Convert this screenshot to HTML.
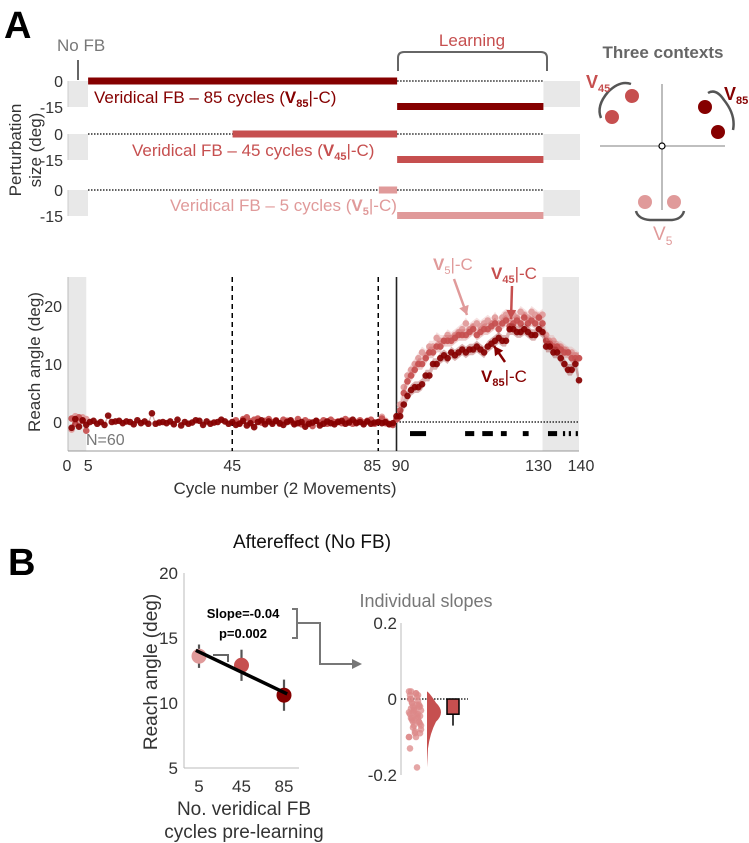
<!DOCTYPE html>
<html><head><meta charset="utf-8"><style>
body{margin:0;background:#fff;}
svg{display:block;font-family:"Liberation Sans",Arial,sans-serif;}
</style></head><body>
<svg id="fig" width="749" height="843" viewBox="0 0 749 843" xmlns="http://www.w3.org/2000/svg">
<text x="4" y="38" font-size="38" font-weight="bold" fill="#000">A</text>
<g id="topsched"></g>
<g id="ctx"></g>
<g id="main"></g>
<text x="8" y="575" font-size="38" font-weight="bold" fill="#000">B</text>
<text x="312" y="548" font-size="19" text-anchor="middle" fill="#111">Aftereffect (No FB)</text>
<g id="after"></g>
<g id="slopes"></g>
</svg>
<script>
// ---- data ----
const v85 = [-1,0.5,-0.8,0.3,-0.5, 0,0.2,-0.3,0,-0.5,1.1,0,0.1,0.2,-0.2,0.1,0,-0.4,0.3,-0.2,0.1,-0.3,1.5,-0.3,-0.1,0,-0.2,0.1,-0.4,0.4,-0.6,0,-0.3,-0.1,0.3,0.2,-0.5,0.1,-0.3,-0.1,0,0.4,0.1,-0.3,0,
 -0.5,-0.3,0.2,-0.6,-0.2,-0.9,0,0.3,-0.4,0.1,-0.3,0.2,-0.2,-0.5,0,0.3,-0.4,-0.2,0,-0.8,-0.3,-0.1,0.2,-0.6,-0.3,0.1,-0.2,-0.4,0,0.2,-0.3,-0.1,0.4,-0.2,0,-0.4,0.1,-0.3,-0.1,0,-0.2,0,-0.4,-0.2,1,
 1,3,4.5,5.5,6,6,6.5,8,8,10,10,11,11.5,11,12,11.5,12,12.5,12,12.5,12.5,13,12.5,12,13,13.5,14,14.5,14,14,16,16,15.5,15.5,16,15.5,15,15,16,15.5,
 13,13,12,12,11,10,9,9,10,7.2];
const v45Early = [0.6,-0.3,0.8,0.2,-1.5];
const v45 = [0.3,-0.2,0.5,0.8,0.1,0.4,0.6,-0.1,0.2,0.5,0,0.3,-0.3,0.4,0.2,0.1,-0.2,0.5,-0.4,0.3,0,-0.7,0.2,-0.1,0.3,-0.3,0.4,0,0.1,-0.2,0.5,0.2,-0.3,0,0.3,-0.1,0.2,0.4,-0.3,0,0.6,-0.2,-0.3,-0.5,0.5,
 2,5,7,8,9,10,10,11,12,12,13,13,14,14,14,14.5,15,15,15,15.5,16,15,15.5,16,16,16.5,17,16,17,17.5,16.5,17,17.5,17,18,17,17.5,17,18,17,
 14,13.5,13,13,12.5,12,12,11,11,11];
const v5Early = [-1.3,1,0.2,0.8,0.5];
const v5 = [0.9,0.2,-0.4,-0.5,0.4,
 3,6,8,9,10,11,12,11.5,13,13,14.5,14,14,15,14.5,15,15.5,16,17,16,16.5,17,16.5,17,17.5,17,18,17,18,18.5,18,18.5,18,19,18.5,18,19,18.5,18,18.5,
 15,14,14,13,13,12.5,12,12,11.5,11];
const SEM = 1.0;
const SEM_BASE = 0.35;
const sigStart = [93.7,108.8,113.5,118.6,124.6,131.5,135.6,137.2,139.1];
const sigEnd   = [98.1,111.3,116.4,120.2,126.2,134.0,136.2,137.8,139.7];
const xTicks = [0,5,45,85,90,130,140];
const yTicks = [0,10,20];
const aeCats = [5,45,85];
const aeMeans = [13.6,12.9,10.6];
const aeErr = [0.9,1.2,1.2];
const fitLine = [14.05,10.7];
const aeYTicks = [5,10,15,20];
const indiv = [0.02,0.015,0.01,0.005,0.0,-0.005,-0.01,-0.015,-0.02,-0.02,-0.025,-0.03,-0.03,-0.035,-0.04,-0.04,-0.045,-0.05,-0.05,-0.055,-0.06,-0.06,-0.065,-0.07,-0.08,-0.09,-0.1,-0.1,-0.13,-0.18,0.02,0.01,-0.01,-0.02,-0.035,-0.045,-0.055,-0.07,-0.085,-0.1,0.015,0.0,-0.015,-0.025,-0.04,-0.05,-0.06,-0.075,-0.09,-0.03];
const meanSlope = -0.04;
const slopeErr = 0.03;
const slopeTicks = [0.2,0,-0.2];

const NS='http://www.w3.org/2000/svg';
function mk(tag, attrs, parent){const e=document.createElementNS(NS,tag);for(const k in attrs)e.setAttribute(k,attrs[k]);parent.appendChild(e);return e;}
const C85='#850000', C45='#c64f4f', C5='#e09a9a';

// ---- top schedule ----
const topG=document.getElementById('topsched');
const tx=c=>68+c*3.657;
const rows=[{y0:81,start:5.5,col:C85,txt:'Veridical FB – 85 cycles (',sub:'85',lx:94,ly:103},
            {y0:134,start:45,col:C45,txt:'Veridical FB – 45 cycles (',sub:'45',lx:132,ly:156},
            {y0:190,start:85,col:C5,txt:'Veridical FB – 5 cycles (',sub:'5',lx:170,ly:211}];
rows.forEach((r,i)=>{
  const g=mk('g',{},topG);
  
  
  const y15=r.y0+26;
  let e=mk('rect',{x:68,y:r.y0,width:20,height:26,fill:'#e8e8e8'},g);
  e=mk('rect',{x:tx(130),y:r.y0,width:tx(140)-tx(130),height:26,fill:'#e8e8e8'},g);
  mk('line',{x1:68,y1:r.y0,x2:68,y2:y15,stroke:'#ccc'},g);
  if(r.start>6) mk('line',{x1:88,y1:r.y0,x2:tx(r.start),y2:r.y0,stroke:'#000','stroke-dasharray':'1.5,1.5','stroke-width':1.2},g);
  e=mk('rect',{x:tx(r.start),y:r.y0-3.5,width:tx(90)-tx(r.start),height:7,fill:r.col},g);
  
  
  mk('line',{x1:tx(90),y1:r.y0,x2:tx(130),y2:r.y0,stroke:'#000','stroke-dasharray':'1.5,1.5','stroke-width':1.2},g);
  e=mk('rect',{x:tx(90),y:y15-4,width:tx(130)-tx(90),height:7,fill:r.col},g);
  
  
  let tt=mk('text',{x:63,y:r.y0+6,'font-size':16,'text-anchor':'end',fill:'#333'},g);tt.textContent='0';
  tt=mk('text',{x:63,y:y15+6,'font-size':16,'text-anchor':'end',fill:'#333'},g);tt.textContent='-15';
  tt=mk('text',{x:r.lx,y:r.ly,'font-size':17,fill:r.col},g);
  
  
  tt.innerHTML=r.txt+'<tspan font-weight="bold">V</tspan><tspan font-size="11" font-weight="bold" dy="4">'+r.sub+'</tspan><tspan dy="-4">|-C)</tspan>';
});
let t=mk('text',{transform:'translate(21,150) rotate(-90)','font-size':17,'text-anchor':'middle',fill:'#333'},topG);t.textContent='Perturbation';


t=mk('text',{transform:'translate(41,150) rotate(-90)','font-size':17,'text-anchor':'middle',fill:'#333'},topG);t.textContent='size (deg)';
t=mk('text',{x:57,y:51,'font-size':17,fill:'#777'},topG);t.textContent='No FB';


mk('line',{x1:78,y1:60,x2:78,y2:80,stroke:'#666','stroke-width':2},topG);
t=mk('text',{x:472,y:46,'font-size':17,'text-anchor':'middle',fill:C45},topG);t.textContent='Learning';


mk('path',{d:'M398,71 V58 Q398,52 404,52 H541 Q547,52 547,58 V71',fill:'none',stroke:'#666','stroke-width':2},topG);

// ---- contexts ----
const ctx=document.getElementById('ctx');
t=mk('text',{x:663,y:58,'font-size':17,'font-weight':'bold','text-anchor':'middle',fill:'#666'},ctx);t.textContent='Three contexts';


mk('line',{x1:600,y1:146,x2:725,y2:146,stroke:'#999','stroke-width':1.3},ctx);
mk('line',{x1:662,y1:84,x2:662,y2:210,stroke:'#999','stroke-width':1.3},ctx);
mk('circle',{cx:662,cy:146,r:3,fill:'#fff',stroke:'#000','stroke-width':1.2},ctx);
[[632,96,C45],[612,117,C45],[705,107,C85],[718,132,C85],[645,202,C5],[674,202,C5]].forEach(d=>{
  const c=mk('circle',{cx:d[0],cy:d[1],r:7,fill:d[2]},ctx);
  
  
});
mk('path',{d:'M601,118 Q596,106 608,92 Q620,80 631,84',fill:'none',stroke:'#555','stroke-width':2.5},ctx);
mk('path',{d:'M708,93 Q716,88 724,100 Q736,115 733,130',fill:'none',stroke:'#555','stroke-width':2.5},ctx);
mk('path',{d:'M636,211 Q638,219 650,220 H672 Q682,219 684,211',fill:'none',stroke:'#555','stroke-width':2.5},ctx);
t=mk('text',{x:586,y:88,'font-size':18,'font-weight':'bold',fill:C45},ctx);t.innerHTML='V<tspan font-size="11" dy="4">45</tspan>';
t=mk('text',{x:724,y:100,'font-size':18,'font-weight':'bold',fill:C85},ctx);t.innerHTML='V<tspan font-size="11" dy="4">85</tspan>';
t=mk('text',{x:653,y:240,'font-size':19,fill:C5},ctx);t.innerHTML='V<tspan font-size="12" dy="5">5</tspan>';

// ---- main chart ----
const main=document.getElementById('main');
const X=c=>68+c*3.65, Y=v=>422-v*5.8;
const yTop=Y(25), yBot=Y(-5);
mk('rect',{x:X(0),y:yTop,width:X(5)-X(0),height:yBot-yTop,fill:'#e8e8e8'},main);
mk('rect',{x:X(130),y:yTop,width:X(140)-X(130),height:yBot-yTop,fill:'#e8e8e8'},main);
mk('line',{x1:X(0),y1:yTop,x2:X(0),y2:yBot,stroke:'#bbb'},main);
mk('line',{x1:X(0),y1:yBot,x2:X(140),y2:yBot,stroke:'#999'},main);
mk('line',{x1:X(90),y1:Y(0),x2:X(140),y2:Y(0),stroke:'#000','stroke-dasharray':'1.5,1.5','stroke-width':1.2},main);
mk('line',{x1:X(45),y1:yTop,x2:X(45),y2:yBot,stroke:'#000','stroke-dasharray':'5,4','stroke-width':1.5},main);
mk('line',{x1:X(85),y1:yTop,x2:X(85),y2:yBot,stroke:'#000','stroke-dasharray':'5,4','stroke-width':1.5},main);
mk('line',{x1:X(90),y1:yTop,x2:X(90),y2:yBot,stroke:'#222','stroke-width':1.6},main);
const semAt=c=>c>90?SEM:SEM_BASE;
function series(vals,start,col,name){
  const g=mk('g',{},main);
  
  
  let up='',dn='';
  vals.forEach((v,i)=>{up+=(i?'L':'M')+X(start+i)+','+Y(v+semAt(start+i));});
  for(let i=vals.length-1;i>=0;i--)dn+='L'+X(start+i)+','+Y(vals[i]-semAt(start+i));
  mk('path',{d:up+dn+'Z',fill:col,opacity:0.3},g);
  vals.forEach((v,i)=>{
    const c=mk('circle',{cx:X(start+i),cy:Y(v),r:3.3,fill:col,opacity:0.92},g);
    
    
  });
}
series(v5Early,1,C5,'v5-series-early');
series(v5,86,C5,'v5-series');
series(v45Early,1,C45,'v45-series-early');
series(v45,46,C45,'v45-series');
series(v85,1,C85,'v85-series');
sigStart.forEach((s,i)=>{
  const r=mk('rect',{x:X(s),y:Y(-2)-2.5,width:X(sigEnd[i])-X(s),height:5,fill:'#000'},main);
  
  
});
const xTickNudge={0:-1,5:2,85:-6,90:4,130:-4,140:2};
xTicks.forEach(v=>{const e=mk('text',{x:X(v)+(xTickNudge[v]||0),y:471,'font-size':16,'text-anchor':'middle',fill:'#333'},main);e.textContent=v;});
yTicks.forEach(v=>{const e=mk('text',{x:62,y:Y(v)+6,'font-size':16,'text-anchor':'end',fill:'#333'},main);e.textContent=v;});
t=mk('text',{x:285,y:494,'font-size':17,'text-anchor':'middle',fill:'#333'},main);t.textContent='Cycle number (2 Movements)';


t=mk('text',{transform:'translate(40,362) rotate(-90)','font-size':17,'text-anchor':'middle',fill:'#333'},main);t.textContent='Reach angle (deg)';


t=mk('text',{x:86,y:445,'font-size':16,fill:'#777'},main);t.textContent='N=60';
function arrow(x1,y1,x2,y2,col){
  mk('line',{x1:x1,y1:y1,x2:x2,y2:y2,stroke:col,'stroke-width':2.5},main);
  const a=Math.atan2(y2-y1,x2-x1),L=9,w=5;
  const bx=x2-L*Math.cos(a),by=y2-L*Math.sin(a);
  mk('polygon',{points:`${x2},${y2} ${bx-w*Math.sin(a)},${by+w*Math.cos(a)} ${bx+w*Math.sin(a)},${by-w*Math.cos(a)}`,fill:col},main);
}
t=mk('text',{x:433,y:270,'font-size':17,fill:C5},main);t.innerHTML='<tspan font-weight="bold">V</tspan><tspan font-size="11" dy="4">5</tspan><tspan dy="-4">|-C</tspan>';
arrow(454,279,467,315,C5);
t=mk('text',{x:491,y:279,'font-size':17,fill:C45},main);t.innerHTML='<tspan font-weight="bold">V</tspan><tspan font-size="11" font-weight="bold" dy="4">45</tspan><tspan dy="-4">|-C</tspan>';
arrow(512,286,511,319,C45);
t=mk('text',{x:481,y:382,'font-size':17,fill:C85},main);t.innerHTML='<tspan font-weight="bold">V</tspan><tspan font-size="11" font-weight="bold" dy="4">85</tspan><tspan dy="-4">|-C</tspan>';
arrow(505,362,494,346,C85);

// ---- aftereffect ----
const af=document.getElementById('after');
const AX=c=>199+(c-5)*(85/80), AY=v=>768-(v-5)*13;
mk('line',{x1:184,y1:AY(20),x2:184,y2:AY(5),stroke:'#bbb'},af);
mk('line',{x1:184,y1:AY(5),x2:299,y2:AY(5),stroke:'#bbb'},af);
aeYTicks.forEach(v=>{const e=mk('text',{x:178,y:AY(v)+6,'font-size':17,'text-anchor':'end',fill:'#333'},af);e.textContent=v;});
aeCats.forEach(v=>{const e=mk('text',{x:AX(v),y:792,'font-size':17,'text-anchor':'middle',fill:'#333'},af);e.textContent=v;});
const aeCols=[C5,C45,C85];
aeCats.forEach((c,i)=>{
  mk('line',{x1:AX(c),y1:AY(aeMeans[i]-aeErr[i]),x2:AX(c),y2:AY(aeMeans[i]+aeErr[i]),stroke:'#555','stroke-width':2.2},af);
  const p=mk('circle',{cx:AX(c),cy:AY(aeMeans[i]),r:7.5,fill:aeCols[i]},af);
  
  
});
const fl=mk('line',{x1:AX(2),y1:AY(fitLine[0]),x2:AX(88),y2:AY(fitLine[1]),stroke:'#000','stroke-width':3.5},af);


mk('path',{d:'M213,655 H228 V662',fill:'none',stroke:'#666','stroke-width':2},af);
t=mk('text',{x:243,y:618,'font-size':13,'font-weight':'bold','text-anchor':'middle',fill:'#000'},af);t.textContent='Slope=-0.04';
t=mk('text',{x:243,y:638,'font-size':13,'font-weight':'bold','text-anchor':'middle',fill:'#000'},af);t.textContent='p=0.002';
mk('path',{d:'M292,609 H297 V638 H292 M297,623 H320 V664 H355',fill:'none',stroke:'#777','stroke-width':2},af);
mk('polygon',{points:'362,664 352,659 352,669',fill:'#777'},af);
t=mk('text',{transform:'translate(157,672) rotate(-90)','font-size':19,'text-anchor':'middle',fill:'#333'},af);t.textContent='Reach angle (deg)';
t=mk('text',{x:244,y:815,'font-size':19,'text-anchor':'middle',fill:'#333'},af);t.textContent='No. veridical FB';
t=mk('text',{x:244,y:838,'font-size':19,'text-anchor':'middle',fill:'#333'},af);t.textContent='cycles pre-learning';

// ---- individual slopes ----
const sl=document.getElementById('slopes');
const SY=v=>699-v*380;
t=mk('text',{x:426,y:607,'font-size':18,'text-anchor':'middle',fill:'#777'},sl);t.textContent='Individual slopes';
mk('line',{x1:401,y1:SY(0.2),x2:401,y2:SY(-0.2),stroke:'#bbb'},sl);
slopeTicks.forEach(v=>{const e=mk('text',{x:397,y:SY(v)+6,'font-size':17,'text-anchor':'end',fill:'#333'},sl);e.textContent=v;});
mk('line',{x1:401,y1:SY(0),x2:468,y2:SY(0),stroke:'#000','stroke-dasharray':'1.5,1.5','stroke-width':1.2},sl);
indiv.forEach((v,i)=>{
  const c=mk('circle',{cx:409+(i*7%13),cy:SY(v),r:3.3,fill:'#dc8888',opacity:0.75},sl);
  
  
});
mk('path',{d:`M427,${SY(0.02)} Q430,${SY(0.015)} 436,${SY(-0.01)} Q446,${SY(-0.035)} 436,${SY(-0.06)} Q430,${SY(-0.09)} 428,${SY(-0.13)} L427,${SY(-0.18)} Z`,fill:'#c64f4f'},sl);
const br=mk('rect',{x:447,y:SY(0),width:12,height:SY(meanSlope)-SY(0),fill:'#c64f4f',stroke:'#000','stroke-width':1.5},sl);


mk('line',{x1:453,y1:SY(meanSlope),x2:453,y2:SY(meanSlope-slopeErr),stroke:'#000','stroke-width':1.5},sl);
</script>
</body></html>
